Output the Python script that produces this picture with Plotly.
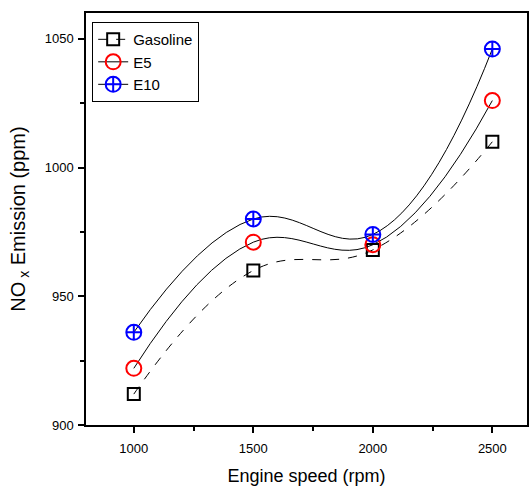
import plotly.graph_objects as go

speed = [1000, 1500, 2000, 2500]
gasoline = [912, 960, 968, 1010]
e5 = [922, 971, 970, 1026]
e10 = [936, 980, 974, 1046]

fig = go.Figure()
fig.add_trace(go.Scatter(
    x=speed, y=gasoline, name="Gasoline", mode="lines+markers",
    line=dict(color="black", width=1, dash="dash", shape="spline", smoothing=1.2),
    marker=dict(symbol="square-open", size=12, color="black", line=dict(width=2))))
fig.add_trace(go.Scatter(
    x=speed, y=e5, name="E5", mode="lines+markers",
    line=dict(color="black", width=1, shape="spline", smoothing=1.2),
    marker=dict(symbol="circle-open", size=15, color="red", line=dict(width=2))))
fig.add_trace(go.Scatter(
    x=speed, y=e10, name="E10", mode="lines+markers",
    line=dict(color="black", width=1, shape="spline", smoothing=1.2),
    marker=dict(symbol="circle-cross-open", size=15, color="blue", line=dict(width=2))))

fig.update_layout(
    width=529, height=486,
    margin=dict(l=86, r=0, t=13, b=61),
    paper_bgcolor="white", plot_bgcolor="white",
    font=dict(family="Liberation Sans, Arial, sans-serif", color="black"),
    showlegend=True,
    legend=dict(x=0.014, y=0.978, xanchor="left", yanchor="top",
                bordercolor="black", borderwidth=1, bgcolor="white",
                font=dict(size=15), tracegroupgap=0, itemwidth=30),
)
fig.update_xaxes(
    range=[800, 2645], tickvals=[1000, 1500, 2000, 2500],
    ticks="outside", ticklen=6, tickwidth=1.5, tickcolor="black",
    minor=dict(tickvals=[1250, 1750, 2250], ticks="outside", ticklen=4, tickwidth=1.5, tickcolor="black"),
    showline=True, linecolor="black", linewidth=1.5, mirror=True,
    showgrid=False, zeroline=False,
    tickfont=dict(size=13), ticklabelstandoff=5,
    title=dict(text="Engine speed (rpm)", font=dict(size=18), standoff=14),
)
fig.update_yaxes(
    range=[900, 1060], tickvals=[900, 950, 1000, 1050],
    ticks="outside", ticklen=6, tickwidth=1.5, tickcolor="black",
    minor=dict(tickvals=[925, 975, 1025], ticks="outside", ticklen=4, tickwidth=1.5, tickcolor="black"),
    showline=True, linecolor="black", linewidth=1.5, mirror=True,
    showgrid=False, zeroline=False,
    tickfont=dict(size=13), ticklabelstandoff=2,
    title=dict(text="NO<sub> x</sub> Emission (ppm)", font=dict(size=20), standoff=14),
)

fig.write_html("out.html")
